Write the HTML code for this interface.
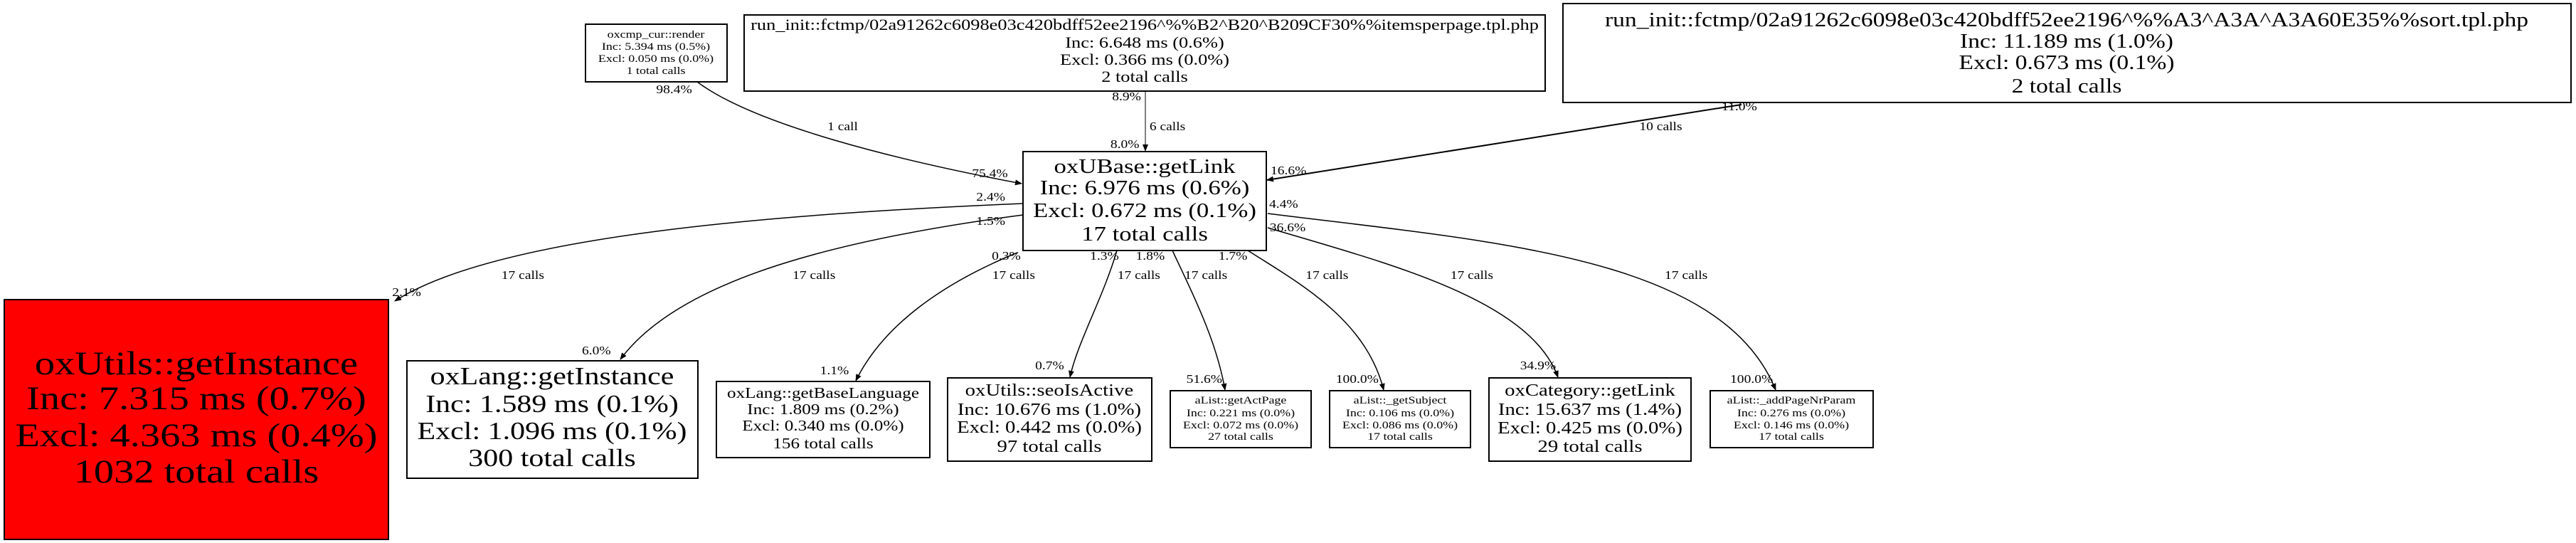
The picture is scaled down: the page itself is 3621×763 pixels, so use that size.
<!DOCTYPE html>
<html><head><meta charset="utf-8"><style>
html,body{margin:0;padding:0;background:#fff;}
svg{display:block;}
text{font-family:"Liberation Serif",serif;fill:#000;}
</style></head><body>
<svg width="3621" height="763" viewBox="0 0 3621 763" xmlns="http://www.w3.org/2000/svg">
<defs>
<marker id="a" markerWidth="10" markerHeight="8" refX="9" refY="4" orient="auto" markerUnits="userSpaceOnUse">
<path d="M0,0 L10,4 L0,8 z" fill="#000"/></marker>
</defs>
<rect width="3621" height="763" fill="#fff"/>
<g fill="none" stroke="#000" stroke-width="1.5">
<path d="M980,115 C1060,175 1260,225 1436,258" marker-end="url(#a)"/>
<path d="M1610,128 L1610,212" marker-end="url(#a)" stroke-width="1"/>
<path d="M2448,147 C2200,185 1950,225 1781,253" marker-end="url(#a)" stroke-width="2"/>
<path d="M1438,286 C1100,300 700,330 555,423" marker-end="url(#a)"/>
<path d="M1438,302 C1150,340 950,400 872,505" marker-end="url(#a)"/>
<path d="M1430,355 C1320,400 1240,460 1203,535" marker-end="url(#a)"/>
<path d="M1570,352 C1550,420 1515,480 1504,530" marker-end="url(#a)"/>
<path d="M1648,352 C1680,420 1710,480 1722,548" marker-end="url(#a)"/>
<path d="M1754,352 C1830,400 1920,450 1945,548" marker-end="url(#a)"/>
<path d="M1782,320 C1950,370 2150,420 2190,530" marker-end="url(#a)"/>
<path d="M1782,300 C2100,340 2420,360 2496,548" marker-end="url(#a)"/>
</g>
<g stroke="#000" stroke-width="2" fill="#fff">
<rect x="6" y="421" width="540" height="337" fill="#ff0000"/>
<rect x="572" y="507" width="409" height="165"/>
<rect x="1007" y="536" width="300" height="107"/>
<rect x="1332" y="531" width="287" height="117"/>
<rect x="1645" y="549" width="198" height="80"/>
<rect x="1869" y="549" width="198" height="80"/>
<rect x="2093" y="531" width="284" height="117"/>
<rect x="2404" y="549" width="229" height="80"/>
<rect x="1438" y="213" width="342" height="139"/>
<rect x="823" y="34" width="199" height="81"/>
<rect x="1046" y="21" width="1126" height="107"/>
<rect x="2197" y="5" width="1417" height="139"/>
</g>
<g text-anchor="middle">
<g transform="translate(276,0) scale(1.2,1)" font-size="47">
<text x="0" y="526">oxUtils::getInstance</text><text x="0" y="575">Inc: 7.315 ms (0.7%)</text><text x="0" y="627">Excl: 4.363 ms (0.4%)</text><text x="0" y="678">1032 total calls</text></g>
<g transform="translate(776,0) scale(1.2,1)" font-size="35">
<text x="0" y="540">oxLang::getInstance</text><text x="0" y="579">Inc: 1.589 ms (0.1%)</text><text x="0" y="617">Excl: 1.096 ms (0.1%)</text><text x="0" y="655">300 total calls</text></g>
<g transform="translate(1157,0) scale(1.2,1)" font-size="21">
<text x="0" y="559">oxLang::getBaseLanguage</text><text x="0" y="582">Inc: 1.809 ms (0.2%)</text><text x="0" y="605">Excl: 0.340 ms (0.0%)</text><text x="0" y="630">156 total calls</text></g>
<g transform="translate(1475,0) scale(1.2,1)" font-size="24">
<text x="0" y="556">oxUtils::seoIsActive</text><text x="0" y="583">Inc: 10.676 ms (1.0%)</text><text x="0" y="608">Excl: 0.442 ms (0.0%)</text><text x="0" y="635">97 total calls</text></g>
<g transform="translate(1744,0) scale(1.2,1)" font-size="15">
<text x="0" y="567">aList::getActPage</text><text x="0" y="585">Inc: 0.221 ms (0.0%)</text><text x="0" y="602">Excl: 0.072 ms (0.0%)</text><text x="0" y="618">27 total calls</text></g>
<g transform="translate(1968,0) scale(1.2,1)" font-size="15">
<text x="0" y="567">aList::_getSubject</text><text x="0" y="585">Inc: 0.106 ms (0.0%)</text><text x="0" y="602">Excl: 0.086 ms (0.0%)</text><text x="0" y="618">17 total calls</text></g>
<g transform="translate(2235,0) scale(1.2,1)" font-size="24">
<text x="0" y="556">oxCategory::getLink</text><text x="0" y="583">Inc: 15.637 ms (1.4%)</text><text x="0" y="609">Excl: 0.425 ms (0.0%)</text><text x="0" y="635">29 total calls</text></g>
<g transform="translate(2518,0) scale(1.2,1)" font-size="15">
<text x="0" y="567">aList::_addPageNrParam</text><text x="0" y="585">Inc: 0.276 ms (0.0%)</text><text x="0" y="602">Excl: 0.146 ms (0.0%)</text><text x="0" y="618">17 total calls</text></g>
<g transform="translate(1609,0) scale(1.2,1)" font-size="29">
<text x="0" y="243">oxUBase::getLink</text><text x="0" y="273">Inc: 6.976 ms (0.6%)</text><text x="0" y="305">Excl: 0.672 ms (0.1%)</text><text x="0" y="338">17 total calls</text></g>
<g transform="translate(922,0) scale(1.2,1)" font-size="15">
<text x="0" y="53">oxcmp_cur::render</text><text x="0" y="70">Inc: 5.394 ms (0.5%)</text><text x="0" y="87">Excl: 0.050 ms (0.0%)</text><text x="0" y="104">1 total calls</text></g>
<g transform="translate(1609,0) scale(1.2,1)" font-size="22">
<text x="0" y="42">run_init::fctmp/02a91262c6098e03c420bdff52ee2196^%%B2^B20^B209CF30%%itemsperpage.tpl.php</text><text x="0" y="67">Inc: 6.648 ms (0.6%)</text><text x="0" y="91">Excl: 0.366 ms (0.0%)</text><text x="0" y="115">2 total calls</text></g>
<g transform="translate(2905,0) scale(1.2,1)" font-size="28">
<text x="0" y="37">run_init::fctmp/02a91262c6098e03c420bdff52ee2196^%%A3^A3A^A3A60E35%%sort.tpl.php</text><text x="0" y="67">Inc: 11.189 ms (1.0%)</text><text x="0" y="97">Excl: 0.673 ms (0.1%)</text><text x="0" y="130">2 total calls</text></g>
</g>
<g text-anchor="middle" font-size="17">
<g transform="scale(1.15,1)">
<text x="824" y="131">98.4%</text>
<text x="1030" y="183">1 call</text>
<text x="1210" y="249">75.4%</text>
<text x="1211" y="282">2.4%</text>
<text x="1211" y="316">1.5%</text>
<text x="1230" y="365">0.3%</text>
<text x="1377" y="141">8.9%</text>
<text x="1427" y="183">6 calls</text>
<text x="1375" y="208">8.0%</text>
<text x="2126" y="155">11.0%</text>
<text x="2030" y="183">10 calls</text>
<text x="1575" y="245">16.6%</text>
<text x="1569" y="292">4.4%</text>
<text x="1574" y="325">36.6%</text>
<text x="1350" y="365">1.3%</text>
<text x="1406" y="365">1.8%</text>
<text x="1507" y="365">1.7%</text>
<text x="639" y="392">17 calls</text>
<text x="995" y="392">17 calls</text>
<text x="1239" y="392">17 calls</text>
<text x="1392" y="392">17 calls</text>
<text x="1474" y="392">17 calls</text>
<text x="1622" y="392">17 calls</text>
<text x="1799" y="392">17 calls</text>
<text x="2061" y="392">17 calls</text>
<text x="497" y="416">2.1%</text>
<text x="729" y="498">6.0%</text>
<text x="1020" y="526">1.1%</text>
<text x="1283" y="519">0.7%</text>
<text x="1472" y="538">51.6%</text>
<text x="1659" y="538">100.0%</text>
<text x="1880" y="519">34.9%</text>
<text x="2141" y="538">100.0%</text>
</g>
</g>
</svg>
</body></html>
